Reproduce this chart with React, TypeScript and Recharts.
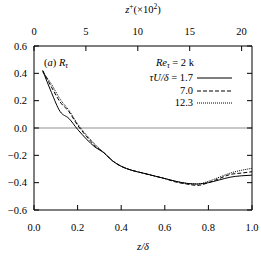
import { LineChart, Line, XAxis, YAxis, ReferenceLine, Customized } from "recharts";

// z/delta positions
const zPos = [0.04, 0.08, 0.12, 0.16, 0.2, 0.24, 0.28, 0.32, 0.36, 0.4, 0.45, 0.5, 0.55, 0.6, 0.65, 0.7, 0.75, 0.8, 0.85, 0.9, 0.95, 1.0];
// R_tau for tau U / delta = 1.7, 7.0, 12.3
const r17 = [0.42, 0.26, 0.12, 0.07, -0.01, -0.08, -0.14, -0.18, -0.24, -0.28, -0.31, -0.33, -0.35, -0.37, -0.39, -0.405, -0.41, -0.4, -0.38, -0.36, -0.35, -0.345];
const r70 = [0.42, 0.3, 0.19, 0.12, 0.02, -0.06, -0.13, -0.18, -0.24, -0.28, -0.31, -0.33, -0.35, -0.37, -0.395, -0.41, -0.42, -0.4, -0.37, -0.34, -0.33, -0.32];
const r123 = [0.41, 0.32, 0.21, 0.13, 0.03, -0.05, -0.12, -0.18, -0.24, -0.28, -0.31, -0.33, -0.35, -0.37, -0.39, -0.405, -0.41, -0.39, -0.36, -0.33, -0.31, -0.295];

const xTicks = [0, 0.2, 0.4, 0.6, 0.8, 1.0];
const topTicks = [0, 5, 10, 15, 20];
const yTicks = [-0.6, -0.4, -0.2, 0, 0.2, 0.4, 0.6];

const data = zPos.map((z, i) => ({ z, a: r17[i], b: r70[i], c: r123[i] }));

const FONT = '"Liberation Serif", "DejaVu Serif", serif';
const txt = { fontFamily: FONT, fontSize: 10.5 };

const fmt = (v: number) => {
  const s = Math.abs(v).toFixed(1);
  return v < -1e-9 ? "\u2212" + s : s;
};

const tickFor = (side: string, m: number, label: (v: number) => string) => (props: any) => {
  const { x, y, payload } = props;
  const len = 5;
  if (side === "bottom") {
    const ay = y - m;
    return (
      <g>
        <line x1={x} y1={ay} x2={x} y2={ay - len} stroke="#000" />
        <text x={x} y={ay + 17} dy="0.35em" textAnchor="middle" style={txt} fill="#000">{label(payload.value)}</text>
      </g>
    );
  }
  if (side === "top") {
    const ay = y + m;
    return (
      <g>
        <line x1={x} y1={ay} x2={x} y2={ay + len} stroke="#000" />
        <text x={x} y={ay - 15} dy="0.35em" textAnchor="middle" style={txt} fill="#000">{label(payload.value)}</text>
      </g>
    );
  }
  if (side === "left") {
    const ax = x + m;
    return (
      <g>
        <line x1={ax} y1={y} x2={ax + len} y2={y} stroke="#000" />
        <text x={ax - 7} y={y} dy="0.35em" textAnchor="end" style={txt} fill="#000">{label(payload.value)}</text>
      </g>
    );
  }
  const ax = x - m;
  return <line x1={ax} y1={y} x2={ax - len} y2={y} stroke="#000" />;
};

const Notes = () => (
  <g style={txt} fill="#000">
    <text x={143} y={13} textAnchor="middle" style={txt}>
      <tspan fontStyle="italic">z</tspan>
      <tspan dy={-4} fontSize={7.5}>+</tspan>
      <tspan dy={4}>(×10</tspan>
      <tspan dy={-4} fontSize={7.5}>2</tspan>
      <tspan dy={4}>)</tspan>
    </text>
    <text x={143} y={250} textAnchor="middle" fontStyle="italic" style={txt}>z/δ</text>
    <text x={44} y={66} style={txt}>
      (<tspan fontStyle="italic">a</tspan>) <tspan fontStyle="italic">R</tspan>
      <tspan dy={2} fontSize={7.5} fontStyle="italic">τ</tspan>
    </text>
    <text x={194} y={66} textAnchor="end" style={txt}>
      <tspan fontStyle="italic">Re</tspan>
      <tspan dy={2} fontSize={7.5} fontStyle="italic">τ</tspan>
      <tspan dy={-2}> = 2 k</tspan>
    </text>
    <text x={193} y={81} textAnchor="end" style={txt}>
      <tspan fontStyle="italic">τU/δ</tspan> = 1.7
    </text>
    <text x={193} y={94} textAnchor="end" style={txt}>7.0</text>
    <text x={193} y={106} textAnchor="end" style={txt}>12.3</text>
    <line x1={197} y1={78} x2={232} y2={78} stroke="#000" />
    <line x1={197} y1={91} x2={232} y2={91} stroke="#000" strokeDasharray="4 2" />
    <line x1={197} y1={103} x2={232} y2={103} stroke="#000" strokeDasharray="1 1" />
  </g>
);

export default function App() {
  return (
    <div style={{ position: "absolute", left: 0, top: 0, width: 261, height: 256, background: "#fff", fontFamily: FONT }}>
      <LineChart width={261} height={256} data={data} margin={{ top: 0, right: 0, bottom: 0, left: 0 }}>
        <XAxis
          xAxisId="bottom"
          dataKey="z"
          type="number"
          domain={[0, 1]}
          ticks={xTicks}
          height={46}
          tickSize={0}
          tickMargin={6}
          axisLine={{ stroke: "#000" }}
          tick={tickFor("bottom", 6, fmt)}
          interval={0}
        />
        <XAxis
          xAxisId="top"
          orientation="top"
          type="number"
          domain={[0, 20]}
          allowDataOverflow
          ticks={topTicks}
          height={46}
          tickSize={0}
          tickMargin={6}
          axisLine={{ stroke: "#000" }}
          tick={tickFor("top", 6, (v) => String(v))}
          interval={0}
        />
        <YAxis
          yAxisId="left"
          type="number"
          domain={[-0.6, 0.6]}
          ticks={yTicks}
          width={34}
          tickSize={0}
          tickMargin={6}
          axisLine={{ stroke: "#000" }}
          tick={tickFor("left", 6, fmt)}
          interval={0}
        />
        <YAxis
          yAxisId="right"
          orientation="right"
          type="number"
          domain={[-0.6, 0.6]}
          allowDataOverflow
          ticks={yTicks}
          width={9}
          tickSize={0}
          tickMargin={6}
          axisLine={{ stroke: "#000" }}
          tick={tickFor("right", 6, fmt)}
          interval={0}
        />
        <ReferenceLine xAxisId="bottom" yAxisId="left" y={0} stroke="#b4b4b4" strokeWidth={1.5} />
        <Line xAxisId="bottom" yAxisId="left" dataKey="a" stroke="#000" strokeWidth={1} dot={false} isAnimationActive={false} type="monotone" />
        <Line xAxisId="bottom" yAxisId="left" dataKey="b" stroke="#000" strokeWidth={1} strokeDasharray="4 2" dot={false} isAnimationActive={false} type="monotone" />
        <Line xAxisId="bottom" yAxisId="left" dataKey="c" stroke="#000" strokeWidth={1} strokeDasharray="1 1" dot={false} isAnimationActive={false} type="monotone" />
        <Customized component={Notes} />
      </LineChart>
    </div>
  );
}
